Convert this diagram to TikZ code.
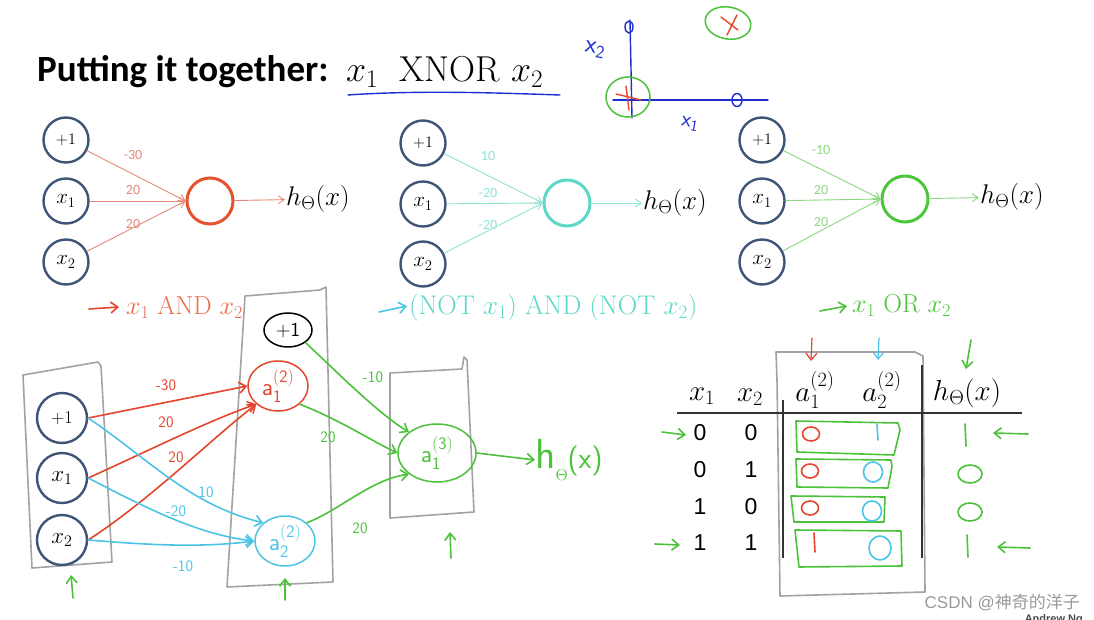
\RequirePackage{fix-cm}
\documentclass[tikz,border=0pt]{standalone}
\usepackage{fontspec}
\usepackage{amsmath}
\newfontfamily\carlito{Carlito}
\newfontfamily\lsans{Liberation Sans}
\newfontfamily\cjk{Noto Sans CJK SC}
\usetikzlibrary{arrows.meta,shapes.geometric,calc}
\definecolor{inblue}{HTML}{3F5577}
\definecolor{andred}{HTML}{E5532F}
\definecolor{andredl}{HTML}{E8897A}
\definecolor{topcyan}{HTML}{5ED8C6}
\definecolor{topcyanl}{HTML}{8FE3D6}
\definecolor{topgreen}{HTML}{4CC63A}
\definecolor{topgreenl}{HTML}{8AD87E}
\definecolor{hred}{HTML}{E5452C}
\definecolor{hcyan}{HTML}{4CC4E6}
\definecolor{hgreen}{HTML}{4BC23A}
\definecolor{hblue}{HTML}{1E2FD0}
\definecolor{boxgray}{HTML}{A3A3A3}
\definecolor{wmgray}{HTML}{9A9A9A}
\newcommand{\hsub}[3]{$\mathsf{#1}^{\mathsf{(#3)}}_{\mathsf{#2}}$}
\begin{document}
\begin{tikzpicture}[x=1pt,y=-1pt,
 incirc/.style={circle,draw=inblue,line width=2.4pt,minimum size=45pt,inner sep=0pt,font=\fontsize{21}{21}\selectfont},
 pluscirc/.style={incirc,font=\fontsize{16}{16}\selectfont},
 outcirc/.style={circle,line width=3pt,minimum size=46pt,inner sep=0pt},
 wline/.style={line width=0.9pt,-{Straight Barb[length=6pt,width=8pt]}},
 wlab/.style={font=\carlito\fontsize{14}{14}\selectfont,inner sep=1pt},
 hlab/.style={font=\fontsize{27}{27}\selectfont,inner sep=1pt},
 glab/.style={font=\fontsize{26}{26}\selectfont,inner sep=1pt},
 hand/.style={line width=1.6pt,line cap=round,line join=round},
 handarr/.style={hand,-{Straight Barb[length=7pt,width=11pt]}},
 boxg/.style={draw=boxgray,line width=1.6pt,line join=round},
 hnum/.style={font=\sffamily\fontsize{16}{16}\selectfont,inner sep=0pt},
 hnode/.style={ellipse,line width=1.5pt,inner sep=0pt,font=\fontsize{25}{25}\selectfont},
 tabnum/.style={font=\lsans\fontsize{23}{23}\selectfont,inner sep=1pt},
 tabhead/.style={font=\fontsize{29}{29}\selectfont,inner sep=1pt},
]
\useasboundingbox (0,0) rectangle (1094,620);
\fill[white] (0,0) rectangle (1094,620);

% ---------- title ----------
\node[anchor=west,font=\carlito\bfseries\fontsize{37}{37}\selectfont,inner sep=0pt] (title) at (37,72) {Putting it together:};
\node[anchor=west,font=\fontsize{36}{36}\selectfont,inner sep=0pt] (xnor) at (346,72) {$x_1\hspace{0.6em}\mathrm{XNOR}\ x_2$};
\draw[hand,hblue,line width=1.4pt] (348,95) .. controls (420,90) and (500,93) .. (560,95);

% ---------- axes sketch ----------
\coordinate (vt) at (630,20);
\coordinate (vb) at (632,118);
\coordinate (hl) at (613,100);
\coordinate (hr) at (768,100);
\draw[hand,hblue,line width=1.4pt] (vt) -- (vb);
\draw[hand,hblue,line width=1.4pt] (hl) -- (hr);
\node[draw=hblue,ellipse,line width=1.4pt,minimum width=8pt,minimum height=12pt,inner sep=0pt] (o1) at (629,27) {};
\node[draw=hblue,ellipse,line width=1.4pt,minimum width=10pt,minimum height=13pt,inner sep=0pt] (o2) at (737,100) {};
\node[text=hblue,font=\fontsize{26}{26}\selectfont,rotate=-10,inner sep=0pt] (lx2) at (595,50) {$\mathsf{x}_{\mathsf{2}}$};
\node[text=hblue,font=\fontsize{22}{22}\selectfont,rotate=-10,inner sep=0pt] (lx1) at (690,124) {$\mathsf{x}_{\mathsf{1}}$};
\node[draw=hgreen,ellipse,line width=1.5pt,minimum width=44pt,minimum height=40pt,inner sep=0pt] (gc1) at (628,97) {};
\draw[hand,hred,line width=1.4pt] (616,94) -- (641,100);
\draw[hand,hred,line width=1.4pt] (626,86) -- (629,110);
\node[draw=hgreen,ellipse,line width=1.5pt,minimum width=46pt,minimum height=32pt,inner sep=0pt,rotate=-10] (gc2) at (728,23) {};
\draw[hand,hred,line width=1.4pt] (721,17) -- (738,30);
\draw[hand,hred,line width=1.4pt] (737,15) -- (727,35);

% ---------- top network 1: AND ----------
\node[pluscirc] (ap) at (66,140) {$+1$};
\node[incirc] (ax1) at (66,201) {$x_1$};
\node[incirc] (ax2) at (66,262) {$x_2$};
\node[outcirc,draw=andred] (ao) at (210,201) {};
\node[hlab,anchor=west] (ah) at (285,199) {$h_\Theta(x)$};
\draw[wline,andredl] (ap) -- (ao.west);
\draw[wline,andredl] (ax1) -- (ao.west);
\draw[wline,andredl] (ax2) -- (ao.west);
\draw[wline,andredl] (ao) -- (ah);
\node[wlab,text=andredl] (aw1) at (133,155) {-30};
\node[wlab,text=andredl] (aw2) at (133,190) {20};
\node[wlab,text=andredl] (aw3) at (133,224) {20};
\draw[handarr,hred] (89,309) -- (119,307);
\node[glab,anchor=west,text=andred!85] (alab) at (125,307) {$x_1\ \mathrm{AND}\ x_2$};

% ---------- top network 2: NOR ----------
\node[pluscirc] (np) at (423,143) {$+1$};
\node[incirc] (nx1) at (423,204) {$x_1$};
\node[incirc] (nx2) at (423,264) {$x_2$};
\node[outcirc,draw=topcyan] (no) at (567,203) {};
\node[hlab,anchor=west] (nh) at (642,203) {$h_\Theta(x)$};
\draw[wline,topcyanl] (np) -- (no.west);
\draw[wline,topcyanl] (nx1) -- (no.west);
\draw[wline,topcyanl] (nx2) -- (no.west);
\draw[wline,topcyanl] (no) -- (nh);
\node[wlab,text=topcyanl] (nw1) at (488,156) {10};
\node[wlab,text=topcyanl] (nw2) at (488,193) {-20};
\node[wlab,text=topcyanl] (nw3) at (488,225) {-20};
\draw[handarr,hcyan] (379,312) -- (407,306);
\node[glab,anchor=west,text=topcyan,font=\fontsize{27}{27}\selectfont] (nlab) at (408,308) {$(\mathrm{NOT}\ x_1)\ \mathrm{AND}\ (\mathrm{NOT}\ x_2)$};

% ---------- top network 3: OR ----------
\node[pluscirc] (op) at (762,140) {$+1$};
\node[incirc] (ox1) at (762,201) {$x_1$};
\node[incirc] (ox2) at (762,262) {$x_2$};
\node[outcirc,draw=topgreen] (oo) at (905,199) {};
\node[hlab,anchor=west] (oh) at (979,197) {$h_\Theta(x)$};
\draw[wline,topgreenl] (op) -- (oo.west);
\draw[wline,topgreenl] (ox1) -- (oo.west);
\draw[wline,topgreenl] (ox2) -- (oo.west);
\draw[wline,topgreenl] (oo) -- (oh);
\node[wlab,text=topgreenl] (ow1) at (821,150) {-10};
\node[wlab,text=topgreenl] (ow2) at (821,190) {20};
\node[wlab,text=topgreenl] (ow3) at (821,222) {20};
\draw[handarr,hgreen] (820,311) -- (847,306);
\node[glab,anchor=west,text=topgreen] (olab) at (851,305) {$x_1\ \mathrm{OR}\ x_2$};

% ---------- bottom network ----------
\draw[boxg] (23,375) -- (98,362) -- (101,366) -- (112,562) -- (32,568) -- cycle;
\draw[boxg] (245,296) -- (320,290) -- (326,287) -- (333,582) -- (227,587) -- cycle;
\draw[boxg] (390,373) -- (462,369) -- (464,357) -- (467,360) -- (474,512) -- (390,518) -- cycle;

\node[pluscirc,minimum size=50pt,font=\fontsize{18}{18}\selectfont] (bp) at (62,418) {$+1$};
\node[incirc,minimum size=50pt,font=\fontsize{23}{23}\selectfont] (bx1) at (62,478) {$x_1$};
\node[incirc,minimum size=50pt,font=\fontsize{23}{23}\selectfont] (bx2) at (62,540) {$x_2$};
\node[draw=black,ellipse,line width=1.5pt,minimum width=48pt,minimum height=34pt,inner sep=0pt,font=\sffamily\fontsize{20}{20}\selectfont] (bb) at (288,330) {+1};
\node[hnode,draw=hred,text=hred,minimum width=60pt,minimum height=50pt] (ba1) at (278,386) {\hsub{a}{1}{2}};
\node[hnode,draw=hcyan,text=hcyan,minimum width=60pt,minimum height=50pt] (ba2) at (285,541) {\hsub{a}{2}{2}};
\node[hnode,draw=hgreen,text=hgreen,minimum width=78pt,minimum height=58pt] (ba3) at (437,453) {\hsub{a}{1}{3}};
\node[anchor=west,text=hgreen,font=\sffamily\fontsize{42}{42}\selectfont,inner sep=0pt] (bh) at (535,460) {h\raisebox{-12pt}{\fontsize{16}{16}\selectfont$\Theta$}\fontsize{30}{30}\selectfont(x)};

% red edges to a1
\draw[handarr,hred] (bp.east) -- (ba1.west);
\draw[handarr,hred] (bx1.east) .. controls (150,450) and (210,420) .. (ba1.south west);
\draw[handarr,hred] (bx2.east) .. controls (150,500) and (210,440) .. (ba1.south west);
\node[hnum,text=hred] (r1) at (166,385) {-30};
\node[hnum,text=hred] (r2) at (166,422) {20};
\node[hnum,text=hred] (r3) at (176,457) {20};
% cyan edges to a2
\draw[handarr,hcyan] (bp.east) .. controls (150,460) and (190,505) .. (ba2.north west);
\draw[handarr,hcyan] (bx1.east) .. controls (150,510) and (200,535) .. (ba2.west);
\draw[handarr,hcyan] (bx2.east) .. controls (150,545) and (200,548) .. (ba2.west);
\node[hnum,text=hcyan] (c1) at (206,492) {10};
\node[hnum,text=hcyan] (c2) at (176,511) {-20};
\node[hnum,text=hcyan] (c3) at (183,566) {-10};
% green edges to a3
\draw[handarr,hgreen] (bb.south east) .. controls (340,375) and (380,415) .. (ba3.north west);
\draw[handarr,hgreen] (ba1.south east) .. controls (340,420) and (370,440) .. (ba3.west);
\draw[handarr,hgreen] (ba2.north east) .. controls (340,510) and (370,480) .. (ba3.south west);
\node[hnum,text=hgreen] (g1) at (373,377) {-10};
\node[hnum,text=hgreen] (g2) at (328,437) {20};
\node[hnum,text=hgreen] (g3) at (360,528) {20};
\draw[handarr,hgreen] (ba3.east) -- (bh.west);
% up arrows
\coordinate (u1a) at (73,598); \coordinate (u1b) at (71,575);
\coordinate (u2a) at (285,600); \coordinate (u2b) at (285,578);
\coordinate (u3a) at (451,558); \coordinate (u3b) at (450,532);
\draw[handarr,hgreen] (u1a) -- (u1b);
\draw[handarr,hgreen] (u2a) -- (u2b);
\draw[handarr,hgreen] (u3a) -- (u3b);

% ---------- table ----------
\draw[boxg] (776,352) -- (915,352) -- (923,356) -- (925,592) -- (780,596) -- (777,380) -- cycle;
\node[tabhead] (tx1) at (702,396) {$x_1$};
\node[tabhead] (tx2) at (750,397) {$x_2$};
\node[tabhead] (ta1) at (815,390) {$a^{(2)}_1$};
\node[tabhead] (ta2) at (882,390) {$a^{(2)}_2$};
\node[tabhead] (th) at (967,393) {$h_\Theta(x)$};
\coordinate (hl1) at (677,413); \coordinate (hl2) at (1022,413);
\draw[line width=1.2pt,black!80] (hl1) -- (hl2);
\coordinate (vl1a) at (783,400); \coordinate (vl1b) at (783,558);
\coordinate (vl2a) at (922,365); \coordinate (vl2b) at (922,558);
\draw[line width=1.2pt,black!80] (vl1a) -- (vl1b);
\draw[line width=1.2pt,black!80] (vl2a) -- (vl2b);
\foreach \r/\y/\a/\b in {1/433/0/0,2/470/0/1,3/507/1/0,4/543/1/1}{
  \node[tabnum] (c1\r) at (700,\y) {\a};
  \node[tabnum] (c2\r) at (751,\y) {\b};
}
% green row boxes
\draw[hand,hgreen] (796,421) -- (898,423) -- (900,430) -- (894,455) -- (797,452) -- cycle;
\draw[hand,hgreen] (796,459) -- (891,460) -- (892,467) -- (888,488) -- (797,487) -- cycle;
\draw[hand,hgreen] (791,496) -- (885,497) -- (884,522) -- (794,522) -- cycle;
\draw[hand,hgreen] (795,530) -- (901,531) -- (902,566) -- (799,567) -- cycle;
% a values
\node[draw=hred,ellipse,line width=1.6pt,minimum width=17pt,minimum height=14pt,inner sep=0pt] (v11) at (811,434) {};
\node[draw=hred,ellipse,line width=1.6pt,minimum width=17pt,minimum height=14pt,inner sep=0pt] (v12) at (810,471) {};
\node[draw=hred,ellipse,line width=1.6pt,minimum width=17pt,minimum height=14pt,inner sep=0pt] (v13) at (810,508) {};
\coordinate (v14a) at (814,533); \coordinate (v14b) at (815,552);
\draw[hand,hred] (v14a) -- (v14b);
\coordinate (w11a) at (877,424); \coordinate (w11b) at (878,440);
\draw[hand,hcyan] (w11a) -- (w11b);
\node[draw=hcyan,ellipse,line width=1.6pt,minimum width=19pt,minimum height=20pt,inner sep=0pt] (w12) at (873,472) {};
\node[draw=hcyan,ellipse,line width=1.6pt,minimum width=19pt,minimum height=20pt,inner sep=0pt] (w13) at (872,511) {};
\node[draw=hcyan,ellipse,line width=1.6pt,minimum width=22pt,minimum height=24pt,inner sep=0pt] (w14) at (880,548) {};
% h values
\coordinate (h1a) at (965,424); \coordinate (h1b) at (966,446);
\draw[hand,hgreen] (h1a) -- (h1b);
\node[draw=hgreen,ellipse,line width=1.6pt,minimum width=24pt,minimum height=18pt,inner sep=0pt] (h2) at (970,474) {};
\node[draw=hgreen,ellipse,line width=1.6pt,minimum width=24pt,minimum height=18pt,inner sep=0pt] (h3) at (970,512) {};
\coordinate (h4a) at (967,535); \coordinate (h4b) at (968,557);
\draw[hand,hgreen] (h4a) -- (h4b);
% arrows in table
\coordinate (ra1) at (662,432); \coordinate (ra2) at (686,435);
\coordinate (rb1) at (655,544); \coordinate (rb2) at (680,545);
\draw[handarr,hgreen] (ra1) -- (ra2);
\draw[handarr,hgreen] (rb1) -- (rb2);
\coordinate (la1) at (1028,434); \coordinate (la2) at (993,433);
\coordinate (lb1) at (1030,548); \coordinate (lb2) at (997,547);
\draw[handarr,hgreen] (la1) -- (la2);
\draw[handarr,hgreen] (lb1) -- (lb2);
\coordinate (da1) at (812,338); \coordinate (da2) at (811,361);
\coordinate (db1) at (879,338); \coordinate (db2) at (878,360);
\coordinate (dc1) at (971,340); \coordinate (dc2) at (966,369);
\draw[handarr,hred,line width=1.2pt] (da1) -- (da2);
\draw[handarr,hcyan,line width=1.2pt] (db1) -- (db2);
\draw[handarr,hgreen] (dc1) -- (dc2);

% ---------- watermark ----------
\node[anchor=east,text=wmgray,font=\lsans\fontsize{17}{17}\selectfont,inner sep=0pt] (wm) at (1080,602) {CSDN @{\cjk 神奇的洋子}};
\begin{scope}
\clip (0,0) rectangle (1094,620);
\node[anchor=north east,text=black!70,font=\lsans\bfseries\fontsize{11}{11}\selectfont,inner sep=0pt] (ang) at (1083,614) {Andrew Ng};
\end{scope}
\end{tikzpicture}
\end{document}
